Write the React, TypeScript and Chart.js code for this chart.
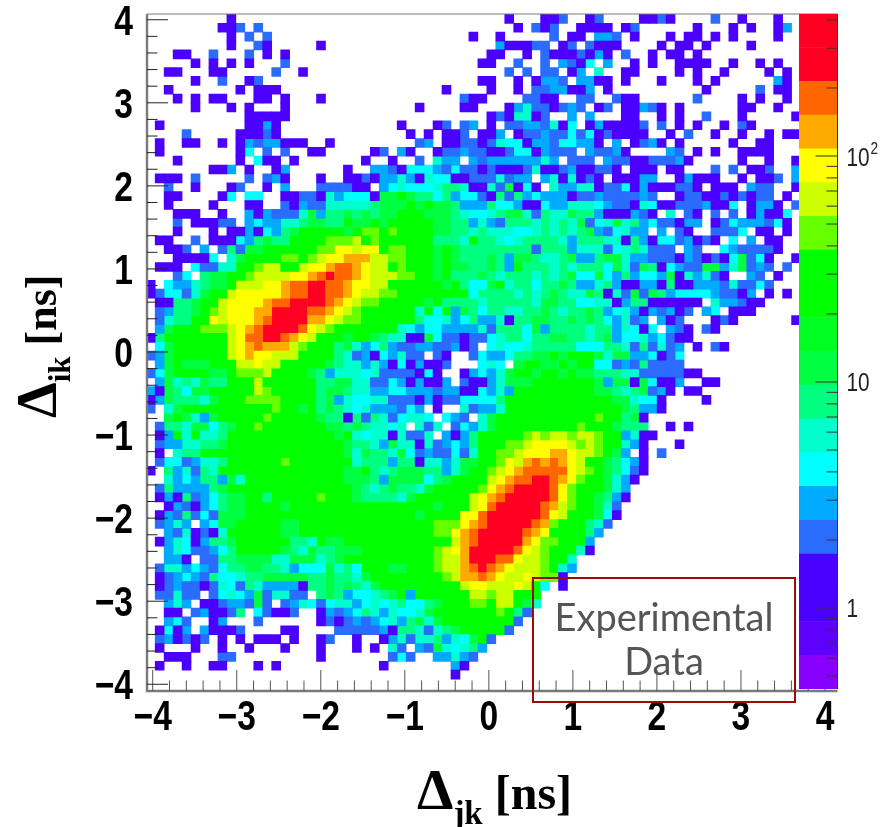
import React, { useEffect, useRef } from "react";
import { Chart, registerables } from "chart.js";

Chart.register(...registerables);

// Axis ticks (ns)
const xTickLabels = [-4, -3, -2, -1, 0, 1, 2, 3, 4];
const yTickLabels = [-4, -3, -2, -1, 0, 1, 2, 3, 4];
const minorStep = 0.2;

// Histogram binning
const binWidth = 8 / 75;
const xFirstBinCentre = -4.024;
const yTopBinCentre = 4.01;

// Counts for each character used in the rows below; "." is an empty bin
const countKeys = "123456789abcde";
const countValues = [1, 2, 3, 4, 6, 8, 11, 25, 45, 65, 90, 125, 180, 300];

// Palette
const paletteEdges = [0.438, 0.618, 0.871, 1.229, 1.733, 2.44, 3.45, 4.86, 6.86, 9.68, 13.65, 19.3, 27.2, 38.3, 54.1, 76.3, 107.6, 151.8, 214, 302, 425];
const paletteColors = ["#8800ff", "#5f00ff", "#4b00ff", "#4a00ff", "#2a6cff", "#00aaff", "#00ffff", "#00ffcc", "#00ff80", "#00ff40", "#00ff20", "#00ff00", "#00ff00", "#66ff00", "#ccff00", "#ffff00", "#ffaa00", "#ff6600", "#ff0022", "#ff0022"];
const paletteMajor = [1, 10, 100];
const paletteMinor = [0.5, 0.6, 0.7, 0.8, 0.9, 2, 3, 4, 5, 6, 7, 8, 9, 20, 30, 40, 50, 60, 70, 80, 90, 200, 300, 400];

// Histogram rows, top to bottom (groups of ten columns, left to right)
const histRows = [
  ".........1 .......... .......... .......... 1...112..1 2....1121. ...2..1... 1..",
  "........11 2.2....... .......... .......... .1.212..11 11.12..... .1...1.1.. 13.",
  ".........1 .2.2...... .......... ......1..1 .....2.11. 332.1...1. 11.1.1.... 1..",
  ".........1 ..21.....1 .......... .........3 11122.12.2 111....1.1 1.1....1.. ...",
  "...11..2.. .2.1.1.... .......... ........11 ..1.211121 31.2..1.11 .1........ ...",
  ".....1.1.1 .1...2.... .......... .......11. .2..2.3214 .3..1.1..1 111..1..1. 1..",
  "..11...11. ....2..1.. .......... .......... 2.2.22.13. 5..11....1 .1..1....1 .1.",
  ".....1..2. .12....... .......... .......11. .1.1332.33 11.1...1.. .1.1...... 31.",
  "..1....... 1.111..... .......... ...1....1. .1.2233113 .1........ ..1.....2. 11.",
  "...1.1.11. ..11.1...1 .......... .....211.. ..2211..22 ..211..... .2....1.1. .1.",
  ".....1...1 .1...1.... .......... 1....11... 135221232. 12.11321.1 ......11.. 1..",
  ".......... .11111.... .......... ........12 15512..3.3 ...11..1.1 ..2...1... ..1",
  ".1........ .1131..... ........1. ..12.23.1. 22332514.1 311112.2.1 .1..1.21.. ...",
  "....2..... 11121..... .........1 .1.112.113 .122322424 121111..1. 2..1..1..1 .11",
  ".1..11..1. 13233111.. 1......... 23.1122125 4413324433 1.3.1231.1 .....1..11 ...",
  ".1........ 14.2.2..11 .....12.31 ..12232211 24413222.3 2231....32 .1.1..1111 ...",
  "...1...... 1.411.1... ....1..1.. 2.533.3233 333353.222 .322112223 1.....1..1 ..1",
  ".......113 .1..13.... ..1..33214 4432422121 1125112311 221.111.11 ...2.2.112 ..3",
  ".111.2.... .2.231...1 ..11213353 1544112225 233.351512 1.11133..1 3111..1.11 2.3",
  "..2..1...1 2..1.3...2 22211.3454 4456651152 7141.53355 1224131112 21.111.322 ..1",
  "..11....14 .44..11221 5344417787 6646344216 2634333122 3222232..1 2211212122 .1.",
  "..1....1.. .11..21322 5555567778 7877633364 4311433555 4322154112 223114.133 1.2",
  "...111..1. .313222573 6676767788 8777654456 7752655766 3111321.5. 21.2.2.131 14.",
  "...2.11122 .343355677 6687787888 8877663532 6665656572 4575634221 33.1243332 41.",
  "...1...1.1 1314367888 8878998988 8877665655 5445656567 324533.3.2 1..2224.11 .1.",
  ".11..2.111 4367668888 999a898888 8866658665 4566665366 6551631442 3121.4.3.1 1..",
  "..112.3.26 2778888889 9bbabb8998 8878766666 6662666355 524565222. 32..432222 1..",
  "...11114.5 788889989a bbcccaa998 8878766676 3776556733 6775332221 3212147241 ..1",
  ".111.42255 889aa88abb cddcbaa898 8878776676 3866656566 6475276143 2277357232 .2.",
  "...24.6778 89aaaabbcd eddcbaaa99 8878666765 6665656744 7436344371 53521..32. 1..",
  "1.43356778 aaabbcddee ddcbbaa888 8887864478 5664667633 5631133161 1333252242 ...",
  "124425788a bbbbbcddee ddcbaa9988 8888884666 6565676557 6152727634 44432213.1 .1.",
  ".1166788ab bbbcddeeee dcba998888 8786666566 6665776644 5513661111 11.533211. ...",
  ".2366789ab bbcceeeedd cba9888888 5848376466 5566765667 6345313231 2.34.111.. ...",
  ".256688bab bbcdeeeecc ba99888888 6445346335 1667766767 643523.312 ...121.... ..1",
  ".37888999a bcdeeeedba 9888888854 3443333526 6647366665 6635414.32 1.21...... ...",
  "168888888a bddeedcba8 8878876551 1742212245 6646677665 6734453421 1......... ...",
  ".47888888a bcdccca988 8675346322 3322312.45 4456666644 4665262523 .1.21..... ...",
  "237888888a bcbbaaa888 8652314352 2.21..2433 4667787888 7577334124 .......... ...",
  ".378777888 aabaa88888 7655353141 3112...454 .788778788 4423262222 .......... ...",
  "2478888778 999a888876 3555452222 141..13435 7887887877 6665522222 11........ ...",
  ".375657668 88a8888886 6775522431 3113.21135 7778888888 7377174113 ..11...... ...",
  "3176477888 88a9888886 7765533443 3323311435 3888888888 776567231. 11........ ...",
  "1376665788 8999988886 7354455222 1312244446 8888888888 88775441.. ..1....... ...",
  "2.57888888 8888988786 7654533324 3.1..52335 8888888888 88876331.. .......... ...",
  "..78753788 8889888887 6616265245 54.432.578 8888888888 988671.... .......... ...",
  ".266577467 8898888888 776765545. 525.243578 8888888898 887666..1. 1......... ...",
  ".138585568 8888888888 8785455152 25.3136888 889a9aa9aa 9883511... .......... ...",
  ".233556678 8888888888 8876653755 1523436888 99abbbba9a 988531...1 .......... ...",
  ".1.5668888 8888888888 8875766574 2322425889 9abbbccbaa 9873.1.2.. .......... ...",
  ".244235568 8888898888 8885666366 1553577889 bacdcdcba8 876431.... .......... ...",
  "1.63526588 8888888888 8877865677 766357889a bcdddddba9 876421.... .......... ...",
  "..53436637 5888888888 8877763777 74678888ab cddeedcb98 87531..... .......... ...",
  ".263333678 8888888888 8887656766 57888889bc deeeedb988 8753...... .......... ...",
  ".131623467 7886888889 8887666657 888888abcd eeeeedb988 7631...... .......... ...",
  "..13213467 7888878888 8888888888 887888abde eeeedca988 752....... .......... ...",
  ".132624277 7888888888 8888888888 78888bbdee eeeedba888 741....... .......... ...",
  ".2353.3477 8888877888 8888888888 88999bcdee eeedc98886 52........ .......... ...",
  "..32512158 8888877888 8888888888 8899bcdeee eedcb88886 3......... .......... ...",
  ".135413667 8888886658 7788888888 8888acdeee eecb998883 .......... .......... ...",
  "..35422346 8888876576 6777888888 889abceeee edba988851 .......... .......... ...",
  "..331.2266 7777557775 6788888888 889aaceeed dbaa9885.. .......... .......... ...",
  ".255343246 6776653444 7564888778 889aacdedc baaa9853.. .......... .......... ...",
  ".123432644 5667777766 7665788888 8889accdcb aaba991... .......... .......... ...",
  ".123221254 2653333166 7676578888 88888abbaa aba84.1... .......... .......... ...",
  ".22522.245 43725522.6 7634456783 888888aa9a a888...... .......... .......... ...",
  "..353.1123 3272.23542 4553454564 467888998a a875...... .......... .......... ...",
  "..11.23112 6.42112..1 3234653544 5788888889 862....... .......... .......... ...",
  "..342..13. ..2......1 2123234536 7578888888 82........ .......... .......... ...",
  ".1413.3111 2....11... .222223166 5256788888 2......... .......... .......... ...",
  ".231212.1. 1.111.1..1 2..1..1352 556354782. .......... .......... .......... ...",
  ".1...1..1. .1...1...1 ...1.1.52. 32754563.. .......... .......... .......... ...",
  "..111...22 .........1 .......242 ..33532... .......... .......... .......... ...",
  ".1..1..11. ..1.1..... ......1... ....31.... .......... .......... .......... ...",
  ".......... .......... .......... ....1..... .......... .......... .......... ...",
];

const sans = '"Liberation Sans", Arial, sans-serif';

function bandOf(count: number) {
  let k = 0;
  while (k < paletteColors.length - 1 && count >= paletteEdges[k + 1]) k++;
  return k;
}

function buildBandPoints() {
  const bands: { x: number; y: number }[][] = paletteColors.map(() => []);
  histRows.forEach((row, r) => {
    row.replace(/ /g, "").split("").forEach((ch, c) => {
      const idx = countKeys.indexOf(ch);
      if (idx < 0) return;
      bands[bandOf(countValues[idx])].push({
        x: xFirstBinCentre + c * binWidth,
        y: yTopBinCentre - r * binWidth,
      });
    });
  });
  return bands;
}

function numberText(v: number) {
  return v < 0 ? "\u2212" + Math.abs(v) : String(v);
}

// Draws one string condensed horizontally about its anchor.
function narrowText(ctx: any, text: string, x: number, y: number, align: string, squeeze: number) {
  ctx.save();
  ctx.translate(x, y);
  ctx.scale(squeeze, 1);
  ctx.textAlign = align;
  ctx.textBaseline = "alphabetic";
  ctx.fillText(text, 0, 0);
  ctx.restore();
}

const rootTicksPlugin = {
  id: "rootTicks",
  afterDatasetsDraw(chart: any) {
    const { ctx, chartArea: a, scales } = chart;
    ctx.save();
    ctx.strokeStyle = "#7a7a7a";
    ctx.lineWidth = 2.4;
    ctx.beginPath();
    ctx.moveTo(a.left, a.top);
    ctx.lineTo(a.left, a.bottom);
    ctx.lineTo(a.right, a.bottom);
    ctx.stroke();
    ctx.lineWidth = 1.2;
    ctx.beginPath();
    ctx.moveTo(a.left, a.top);
    ctx.lineTo(a.right, a.top);
    ctx.stroke();
    const count = Math.round(8 / minorStep);
    ctx.lineWidth = 1;
    for (let i = 0; i <= count; i++) {
      const major = i % 5 === 0;
      const v = -4 + i * minorStep;
      const len = major ? 21 : 10.5;
      const px = scales.x.getPixelForValue(v);
      const py = scales.y.getPixelForValue(v);
      ctx.strokeStyle = "#555555";
      ctx.beginPath();
      ctx.moveTo(px, a.bottom);
      ctx.lineTo(px, a.bottom - len);
      ctx.stroke();
      ctx.strokeStyle = "#222222";
      ctx.beginPath();
      ctx.moveTo(a.left, py);
      ctx.lineTo(a.left + len, py);
      ctx.stroke();
    }
    ctx.fillStyle = "#000";
    ctx.font = "bold 42px " + sans;
    scales.x.ticks.forEach((t: any) => {
      narrowText(ctx, numberText(t.value), scales.x.getPixelForValue(t.value), a.bottom + 39, "center", 0.8);
    });
    scales.y.ticks.forEach((t: any) => {
      narrowText(ctx, numberText(t.value), 133, scales.y.getPixelForValue(t.value) + 15, "right", 0.8);
    });
    ctx.restore();
  },
};

const paletteTicksPlugin = {
  id: "paletteTicks",
  afterDatasetsDraw(chart: any) {
    const { ctx, chartArea: a, scales } = chart;
    ctx.save();
    ctx.strokeStyle = "#333333";
    ctx.lineWidth = 1;
    ctx.beginPath();
    ctx.moveTo(a.right, a.top);
    ctx.lineTo(a.right, a.bottom);
    ctx.stroke();
    const mark = (v: number, len: number) => {
      const y = scales.y.getPixelForValue(v);
      ctx.beginPath();
      ctx.moveTo(a.right, y);
      ctx.lineTo(a.right - len, y);
      ctx.stroke();
    };
    paletteMajor.forEach((v) => mark(v, 22));
    paletteMinor.forEach((v) => mark(v, 11));
    ctx.fillStyle = "#222";
    scales.y.ticks.forEach((t: any) => {
      const y = scales.y.getPixelForValue(t.value) + 9.5;
      const x = a.right + 9;
      ctx.font = "26px " + sans;
      if (t.value >= 100) {
        narrowText(ctx, "10", x, y, "left", 0.8);
        ctx.font = "17px " + sans;
        narrowText(ctx, "2", x + 24, y - 12, "left", 0.8);
      } else {
        narrowText(ctx, String(t.value), x, y, "left", 0.8);
      }
    });
    ctx.restore();
  },
};

export default function App() {
  const mainRef = useRef<HTMLCanvasElement>(null);
  const barRef = useRef<HTMLCanvasElement>(null);

  useEffect(() => {
    const bands = buildBandPoints();
    const main = new Chart(mainRef.current as HTMLCanvasElement, {
      type: "scatter",
      data: {
        datasets: bands.map((points, k) => ({
          label: "band " + k,
          data: points,
          pointStyle: "rect",
          pointRadius: 6.8,
          pointBorderWidth: 0,
          pointBackgroundColor: paletteColors[k],
          pointHoverRadius: 6.8,
        })),
      },
      options: {
        responsive: false,
        animation: false,
        events: [],
        layout: { padding: { top: 14, right: 51.5, left: 0, bottom: 0 } },
        plugins: { legend: { display: false }, tooltip: { enabled: false } },
        scales: {
          x: {
            type: "linear",
            min: -4.068,
            max: 4.149,
            grid: { display: false, drawTicks: false },
            border: { display: false },
            afterFit: (s: any) => { s.height = 136; s.paddingLeft = 0; s.paddingRight = 0; },
            afterBuildTicks: (s: any) => { s.ticks = xTickLabels.map((value) => ({ value })); },
            ticks: { display: false },
          },
          y: {
            type: "linear",
            min: -4.081,
            max: 4.069,
            grid: { display: false, drawTicks: false },
            border: { display: false },
            afterFit: (s: any) => { s.width = 147; s.paddingTop = 0; s.paddingBottom = 0; },
            afterBuildTicks: (s: any) => { s.ticks = yTickLabels.map((value) => ({ value })); },
            ticks: { display: false },
          },
        },
      },
      plugins: [rootTicksPlugin],
    } as any);

    const bar = new Chart(barRef.current as HTMLCanvasElement, {
      type: "bar",
      data: {
        labels: ["counts"],
        datasets: paletteColors.map((color, k) => ({
          label: "level " + k,
          data: [[paletteEdges[k], paletteEdges[k + 1]]],
          backgroundColor: color,
          borderWidth: 0,
          barPercentage: 1,
          categoryPercentage: 1,
          grouped: false,
        })),
      },
      options: {
        responsive: false,
        animation: false,
        events: [],
        layout: { padding: { top: 14, bottom: 138, left: 0, right: 0 } },
        plugins: { legend: { display: false }, tooltip: { enabled: false } },
        scales: {
          x: { display: false },
          y: {
            type: "logarithmic",
            position: "right",
            min: paletteEdges[0],
            max: paletteEdges[paletteEdges.length - 1],
            grid: { display: false, drawTicks: false },
            border: { display: false },
            afterFit: (s: any) => { s.width = 51.5; s.paddingTop = 0; s.paddingBottom = 0; },
            afterBuildTicks: (s: any) => { s.ticks = paletteMajor.map((value) => ({ value })); },
            ticks: { display: false },
          },
        },
      },
      plugins: [paletteTicksPlugin],
    } as any);

    return () => {
      main.destroy();
      bar.destroy();
    };
  }, []);

  const serif = '"Liberation Serif", serif';
  return (
    <div style={{ position: "absolute", left: 0, top: 0, width: 889, height: 827, background: "#fff", overflow: "hidden" }}>
      <canvas ref={mainRef} width={889} height={827} style={{ position: "absolute", left: 0, top: 0 }} />
      <canvas ref={barRef} width={90} height={827} style={{ position: "absolute", left: 799, top: 0 }} />
      <div style={{ position: "absolute", left: 532, top: 577, width: 264, height: 126, boxSizing: "border-box", border: "2px solid #9c0a0a", color: "#555", fontFamily: "Lato, sans-serif", fontSize: 38, lineHeight: "44px", textAlign: "center", paddingTop: 15 }}>
        Experimental
        <br />
        Data
      </div>
      <div style={{ position: "absolute", left: 417, top: 762, whiteSpace: "nowrap", fontFamily: serif, fontWeight: "bold", fontSize: 48, lineHeight: "56px", color: "#000" }}>
        <span style={{ fontSize: 58 }}>Δ</span>
        <span style={{ fontSize: 33, position: "relative", top: 15 }}>jk</span> [ns]
      </div>
      <div style={{ position: "absolute", left: 9, top: 418, transformOrigin: "0 0", transform: "rotate(-90deg)", whiteSpace: "nowrap", fontFamily: serif, fontWeight: "bold", fontSize: 44, lineHeight: "56px", color: "#000" }}>
        <span style={{ fontSize: 57 }}>Δ</span>
        <span style={{ fontSize: 31, position: "relative", top: 14 }}>ik</span> [ns]
      </div>
    </div>
  );
}
